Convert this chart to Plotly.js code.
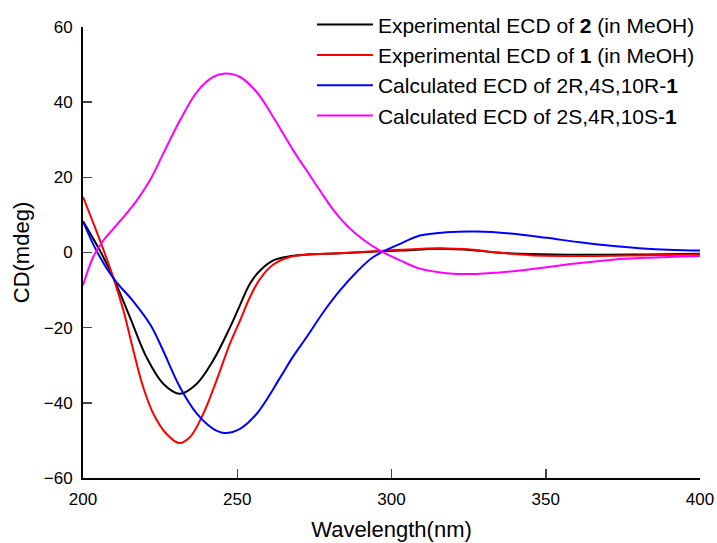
<!DOCTYPE html>
<html>
<head>
<meta charset="utf-8">
<script src="https://cdn.plot.ly/plotly-3.0.1.min.js"></script>
<style>html,body{margin:0;padding:0;background:#fff;}#chart{width:717px;height:543px;}</style>
</head>
<body>
<div id="chart"></div>
<script>
// Experimental ECD of 2 (black)
const exp2X = [200, 205.5, 209.8, 215.2, 220.6, 226, 231.4, 236.9, 242.2, 247.6, 250.9, 254.1, 257.4, 261.7, 267.1, 272.5, 283.3, 296.3, 302.8, 315.7, 326.5, 334, 344.9, 361.1, 382.7, 400];
const exp2Y = [8.3, 0.5, -6.6, -17.2, -27.9, -34.9, -37.6, -34.9, -28.7, -20.0, -14.0, -8.3, -4.8, -2.1, -1.0, -0.5, -0.2, 0.3, 0.5, 1.0, 0.6, 0.0, -0.4, -0.6, -0.5, -0.35];
// Experimental ECD of 1 (red)
const exp1X = [200, 205.5, 209.8, 213.1, 216.3, 219.5, 222.8, 227.1, 231.2, 234.7, 239, 243.3, 247.6, 250.9, 254.1, 257.4, 261.7, 267.1, 272.5, 283.3, 296.3, 302.8, 315.7, 326.5, 334, 344.9, 361.1, 382.7, 400];
const exp1Y = [14.8, 3.2, -6.6, -15.4, -26, -35.8, -42.9, -48.3, -50.7, -49.1, -42.9, -34, -24.3, -18.1, -11.9, -7.0, -3.2, -1.2, -0.6, -0.2, 0.4, 0.7, 1.1, 0.7, 0, -0.7, -0.9, -0.7, -0.5];
// Calculated ECD of 2R,4S,10R-1 (blue)
const calcRX = [200, 204.6, 210, 216.5, 221.9, 225.7, 231.4, 236.9, 242.2, 246, 250.9, 256.3, 263.9, 267.6, 272.5, 277.9, 283.3, 288.7, 294.1, 302.8, 309.2, 317.9, 327.6, 339.5, 350.3, 361.1, 371.9, 382.7, 400];
const calcRY = [8.3, 0.1, -7, -13.2, -19.3, -25.6, -35.8, -42.9, -46.9, -48, -46.9, -42.9, -33.3, -28.3, -22.5, -15.9, -10.1, -5.2, -1.2, 2.3, 4.5, 5.4, 5.6, 5, 3.9, 2.7, 1.7, 1.0, 0.5];
// Calculated ECD of 2S,4R,10S-1 (magenta)
const calcSX = [200, 203.3, 206.6, 209.8, 213.1, 217.4, 221.7, 226, 231.4, 236.9, 242.2, 246, 250.9, 256.3, 261.7, 268.2, 272.5, 276.8, 281.1, 285.5, 290.9, 296.3, 302.8, 309.2, 317.9, 327.6, 339.5, 350.3, 361.1, 371.9, 382.7, 400];
const calcSY = [-8.8, -1.2, 3.2, 6.3, 9.4, 13.8, 19.2, 26.3, 35.1, 42.7, 46.7, 47.6, 46.7, 42.7, 36, 27.1, 21.8, 16.5, 11.4, 7.2, 3.4, 0.5, -2.1, -4.3, -5.5, -5.7, -5, -3.9, -2.8, -1.9, -1.4, -0.9];

const names = [
  'Experimental ECD of <b>2</b> (in MeOH)',
  'Experimental ECD of <b>1</b> (in MeOH)',
  'Calculated ECD of 2R,4S,10R-<b>1</b>',
  'Calculated ECD of 2S,4R,10S-<b>1</b>'
];
const colors = ['#000000', '#ff0000', '#0000ff', '#ff00ff'];
const xs = [exp2X, exp1X, calcRX, calcSX];
const ys = [exp2Y, exp1Y, calcRY, calcSY];

const traces = xs.map((x, i) => ({
  x: x, y: ys[i], type: 'scatter', mode: 'lines', name: names[i],
  line: {color: colors[i], width: 2, shape: 'spline', smoothing: 1}
}));

const font = 'Arial, "Liberation Sans", sans-serif';
const layout = {
  width: 717, height: 543,
  margin: {l: 83, r: 17, t: 27, b: 65, autoexpand: false},
  paper_bgcolor: '#fff', plot_bgcolor: '#fff',
  font: {family: font, color: '#000', size: 17},
  showlegend: true,
  legend: {x: 0.371, y: 1.05, xanchor: 'left', yanchor: 'top', bgcolor: 'rgba(0,0,0,0)',
           font: {family: font, size: 21, color: '#000'}, itemwidth: 56},
  xaxis: {range: [200, 400], tickvals: [200, 250, 300, 350, 400], ticks: 'inside', ticklen: 9, tickwidth: 1.5,
          showline: true, linecolor: '#000', linewidth: 2, showgrid: false, zeroline: false,
          tickfont: {size: 17}, ticklabelstandoff: 5,
          title: {text: 'Wavelength(nm)', font: {size: 22}, standoff: 13}},
  yaxis: {range: [-60, 60], tickvals: [-60, -40, -20, 0, 20, 40, 60], ticks: 'inside', ticklen: 9, tickwidth: 1.5,
          showline: true, linecolor: '#000', linewidth: 2, showgrid: false, zeroline: false,
          tickfont: {size: 17}, ticklabelstandoff: 5,
          title: {text: 'CD(mdeg)', font: {size: 22}, standoff: 8}}
};
Plotly.newPlot('chart', traces, layout, {displayModeBar: false, staticPlot: true});
</script>
</body>
</html>
